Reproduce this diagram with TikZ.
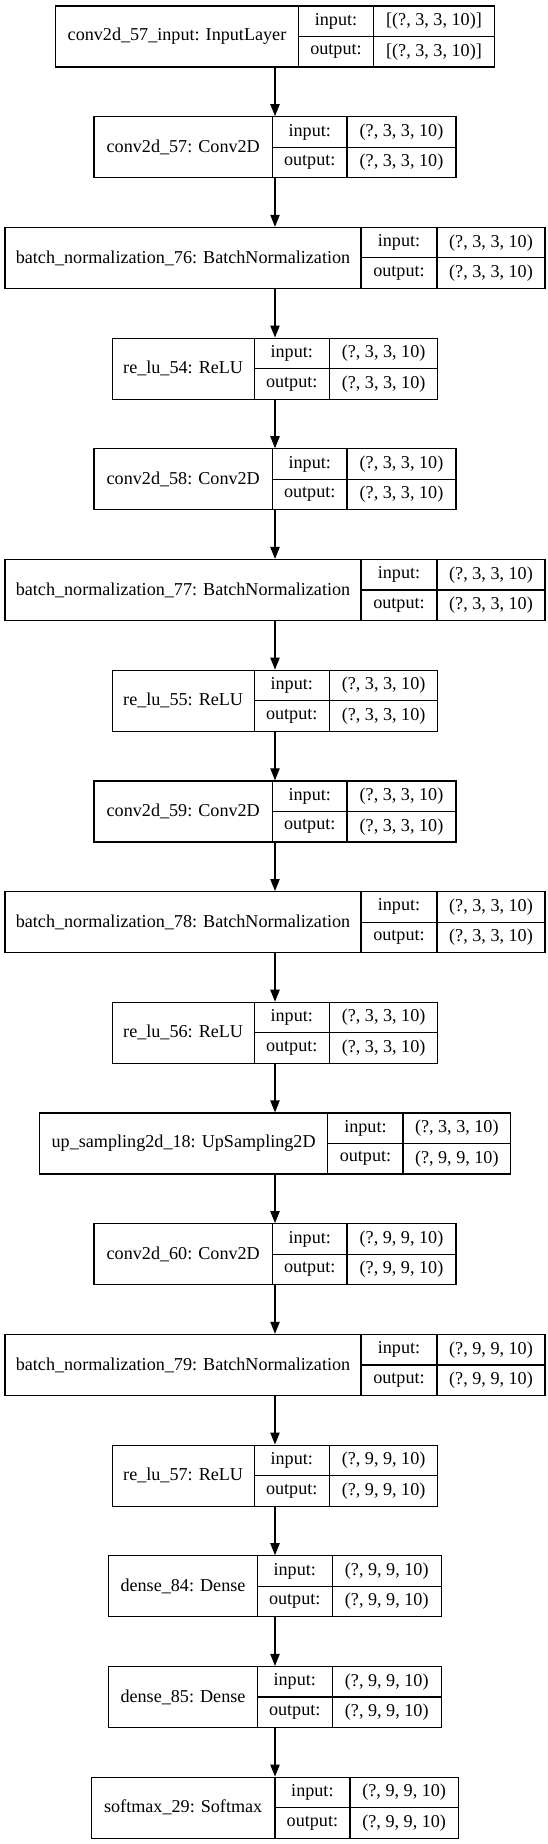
\documentclass[tikz,border=0pt]{standalone}
\usepackage{fontspec}
\setmainfont{Liberation Serif}
\usetikzlibrary{arrows.meta}
\tikzset{
 box/.style={draw=black, line width=0.9pt, inner sep=0pt, minimum height=45.75pt},
 cell/.style={draw=black, line width=0.9pt},
 txt/.style={inner sep=0pt, font=\fontsize{13.6}{16}\selectfont},
 arr/.style={draw=black, line width=0.9pt, -{Triangle[length=9pt,width=7pt]}},
}
\newcommand\layer[7]{%
 \pgfmathsetmacro\tot{#3+#4+#5}%
 \pgfmathsetmacro\lft{275-\tot/2}%
 \pgfmathsetmacro\ta{6+110.7*#1}%
 \pgfmathsetmacro\cy{\ta+30.5}%
 \pgfmathsetmacro\da{\lft+#3}%
 \pgfmathsetmacro\db{\da+#4}%
 \pgfmathsetmacro\rt{\lft+\tot}%
 \node[box, minimum width=\tot*0.75pt] (L#1) at (275,\cy) {};
 \draw[cell] (\da,\ta) -- (\da,\ta+61) (\db,\ta) -- (\db,\ta+61) (\da,\cy) -- (\rt,\cy);
 \node[txt] (N#1) at (\lft+#3/2,\cy) {#2};
 \node[txt] (I#1) at (\da+#4/2,\ta+15.25) {input:};
 \node[txt] (O#1) at (\da+#4/2,\ta+45.75) {output:};
 \node[txt] (IV#1) at (\db+#5/2,\ta+15.25) {#6};
 \node[txt] (OV#1) at (\db+#5/2,\ta+45.75) {#7};
}
\begin{document}
\begin{tikzpicture}[x=0.75pt,y=-0.75pt]
\useasboundingbox (0,0) rectangle (548,1844);
\fill[white] (0,0) rectangle (548,1844);
\layer{0}{conv2d\_57\_input: InputLayer}{243}{75}{121}{[(?, 3, 3, 10)]}{[(?, 3, 3, 10)]}
\layer{1}{conv2d\_57: Conv2D}{178.5}{74.5}{109}{(?, 3, 3, 10)}{(?, 3, 3, 10)}
\layer{2}{batch\_normalization\_76: BatchNormalization}{356}{76}{108}{(?, 3, 3, 10)}{(?, 3, 3, 10)}
\layer{3}{re\_lu\_54: ReLU}{142}{75.2}{108.5}{(?, 3, 3, 10)}{(?, 3, 3, 10)}
\layer{4}{conv2d\_58: Conv2D}{178.5}{74.5}{109}{(?, 3, 3, 10)}{(?, 3, 3, 10)}
\layer{5}{batch\_normalization\_77: BatchNormalization}{356}{76}{108}{(?, 3, 3, 10)}{(?, 3, 3, 10)}
\layer{6}{re\_lu\_55: ReLU}{142}{75.2}{108.5}{(?, 3, 3, 10)}{(?, 3, 3, 10)}
\layer{7}{conv2d\_59: Conv2D}{178.5}{74.5}{109}{(?, 3, 3, 10)}{(?, 3, 3, 10)}
\layer{8}{batch\_normalization\_78: BatchNormalization}{356}{76}{108}{(?, 3, 3, 10)}{(?, 3, 3, 10)}
\layer{9}{re\_lu\_56: ReLU}{142}{75.2}{108.5}{(?, 3, 3, 10)}{(?, 3, 3, 10)}
\layer{10}{up\_sampling2d\_18: UpSampling2D}{288.4}{75.2}{107.5}{(?, 3, 3, 10)}{(?, 9, 9, 10)}
\layer{11}{conv2d\_60: Conv2D}{178.5}{74.5}{109}{(?, 9, 9, 10)}{(?, 9, 9, 10)}
\layer{12}{batch\_normalization\_79: BatchNormalization}{356}{76}{108}{(?, 9, 9, 10)}{(?, 9, 9, 10)}
\layer{13}{re\_lu\_57: ReLU}{142}{75.2}{108.5}{(?, 9, 9, 10)}{(?, 9, 9, 10)}
\layer{14}{dense\_84: Dense}{148.5}{75}{109}{(?, 9, 9, 10)}{(?, 9, 9, 10)}
\layer{15}{dense\_85: Dense}{148.5}{75}{109}{(?, 9, 9, 10)}{(?, 9, 9, 10)}
\layer{16}{softmax\_29: Softmax}{183.4}{75}{108.6}{(?, 9, 9, 10)}{(?, 9, 9, 10)}
\foreach \a [evaluate=\a as \b using int(\a+1)] in {0,...,15}
  \draw[arr] (L\a.south) -- (L\b.north);
\end{tikzpicture}
\end{document}
